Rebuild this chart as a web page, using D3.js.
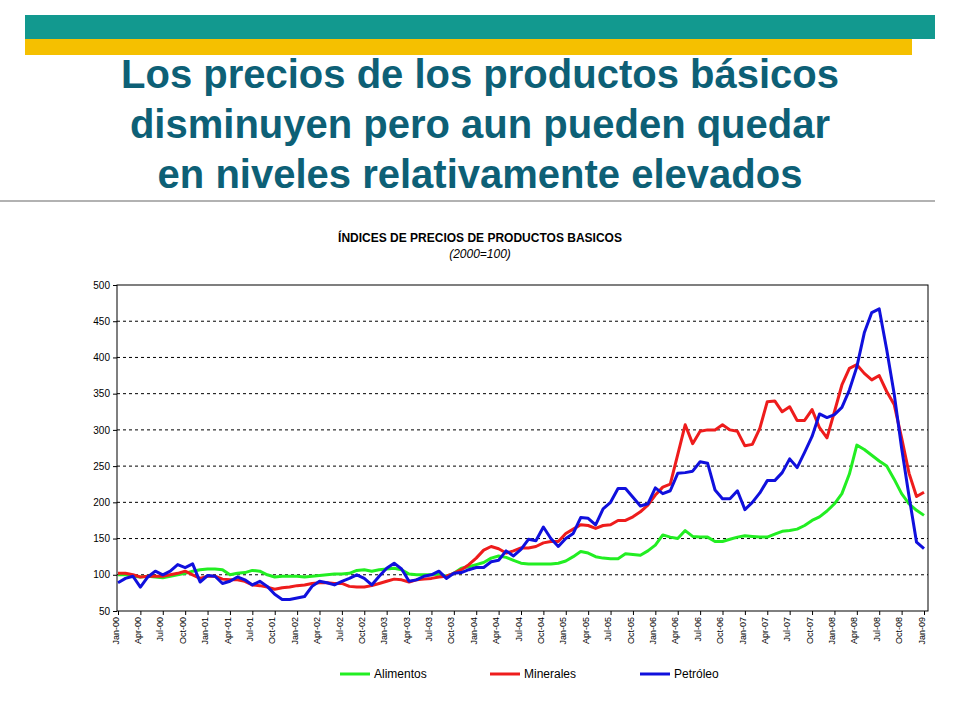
<!DOCTYPE html>
<html>
<head>
<meta charset="utf-8">
<script src="https://cdn.jsdelivr.net/npm/d3@7"></script>
<style>
body { margin: 0; background: #fff; }
</style>
</head>
<body>
<svg width="960" height="720"></svg>
<script>
// monthly indices, Jan-00 .. Jan-09 (2000=100)
const alimentos = [
	100,100,98,97,98,97,96,98,100,102,105,107,
	108,108,107,100,102,103,106,105,100,97,98,98,
	98,97,98,99,100,101,101,102,106,107,105,107,
	108,109,107,101,100,100,100,101,98,102,109,111,
	114,117,123,126,124,120,116,115,115,115,115,116,
	119,125,132,130,125,123,122,122,129,128,127,133,
	141,155,152,150,161,153,152,152,146,146,149,152,
	154,153,152,152,156,160,161,163,168,175,180,188,
	198,212,239,279,273,265,257,250,232,212,198,189,
	182];
const minerales = [
	102,102,100,97,98,98,98,100,102,105,100,95,
	98,98,94,93,93,91,86,85,83,80,82,83,
	85,86,88,89,89,88,88,84,83,83,85,88,
	91,94,93,90,93,94,95,97,98,102,107,114,
	123,134,139,136,130,133,137,137,139,144,146,146,
	157,163,169,168,164,168,169,175,175,180,187,196,
	210,221,225,266,307,281,298,300,300,307,300,298,
	278,280,302,339,340,325,332,313,313,328,303,289,
	325,362,385,390,378,369,375,353,335,289,240,208,
	214];
const petroleo = [
	89,95,98,83,97,105,100,105,114,110,115,90,
	99,98,88,91,97,93,86,91,84,73,66,66,
	68,70,84,91,89,86,91,95,100,95,86,98,
	109,116,108,91,93,98,100,105,95,102,103,107,
	110,110,118,120,133,126,135,149,147,166,150,139,
	150,157,179,178,169,191,200,219,219,207,195,198,
	220,212,216,240,241,243,256,254,217,205,205,216,
	190,200,213,230,230,241,260,248,269,291,322,317,
	321,331,355,387,434,462,467,411,350,275,208,145,
	136];
const monthNames = ["Jan","Apr","Jul","Oct"];
const yTicks = [50,100,150,200,250,300,350,400,450,500];

const svg = d3.select("svg");

// header bars
svg.append("rect").attr("x", 25).attr("y", 15).attr("width", 910).attr("height", 24).attr("fill", "#12998f");
svg.append("rect").attr("x", 25).attr("y", 39).attr("width", 887).attr("height", 16).attr("fill", "#f5c000");

const titleLines = ["Los precios de los productos básicos", "disminuyen pero aun pueden quedar", "en niveles relativamente elevados"];
svg.selectAll(".title").data(titleLines).enter().append("text")
	.attr("x", 480).attr("y", (d, i) => 88 + i * 50)
	.attr("text-anchor", "middle")
	.attr("font-family", "Liberation Sans, Arial, sans-serif")
	.attr("font-weight", "bold").attr("font-size", "40px")
	.attr("fill", "#0d6076").text(d => d);

svg.append("line").attr("x1", 0).attr("x2", 935).attr("y1", 201).attr("y2", 201)
	.attr("stroke", "#999").attr("stroke-width", 1.5);

svg.append("text").attr("x", 480).attr("y", 242).attr("text-anchor", "middle")
	.attr("font-family", "Liberation Sans, Arial, sans-serif").attr("font-weight", "bold").attr("font-size", "12px")
	.text("ÍNDICES DE PRECIOS DE PRODUCTOS BASICOS");
svg.append("text").attr("x", 480).attr("y", 258).attr("text-anchor", "middle")
	.attr("font-family", "Liberation Sans, Arial, sans-serif").attr("font-style", "italic").attr("font-size", "12px")
	.text("(2000=100)");

// plot area
const plotLeft = 117, plotRight = 928, plotTop = 285, plotBottom = 611;
const x = d3.scaleLinear().domain([0, alimentos.length - 1]).range([plotLeft + 1, plotRight - 4]);
const y = d3.scaleLinear().domain([50, 500]).range([plotBottom, plotTop]);

const g = svg.append("g").attr("font-family", "Liberation Sans, Arial, sans-serif");

g.selectAll(".grid").data(yTicks.slice(1, -1)).enter().append("line")
	.attr("x1", plotLeft).attr("x2", plotRight).attr("y1", d => y(d)).attr("y2", d => y(d))
	.attr("stroke", "#000").attr("stroke-dasharray", "3,3").attr("stroke-width", 1);

g.append("rect").attr("x", plotLeft).attr("y", plotTop).attr("width", plotRight - plotLeft).attr("height", plotBottom - plotTop)
	.attr("fill", "none").attr("stroke", "#000");

g.append("g").attr("transform", "translate(" + plotLeft + ",0)")
	.call(d3.axisLeft(y).tickValues(yTicks).tickSize(4).tickSizeOuter(0))
	.call(a => a.select(".domain").remove())
	.selectAll("text").attr("font-size", "10px").attr("font-family", "Liberation Sans, Arial, sans-serif");

const xTickIdx = d3.range(0, alimentos.length, 3);
g.append("g").attr("transform", "translate(0," + plotBottom + ")")
	.call(d3.axisBottom(x).tickValues(xTickIdx).tickSize(4)
		.tickFormat(i => monthNames[(i % 12) / 3] + "-" + String(Math.floor(i / 12)).padStart(2, "0")))
	.call(a => a.select(".domain").remove())
	.selectAll("text")
	.attr("font-size", "9px").attr("font-family", "Liberation Sans, Arial, sans-serif")
	.attr("transform", "rotate(-90)").attr("x", -6).attr("y", -3).attr("dy", "0.35em")
	.style("text-anchor", "end");

const series = [
	{ name: "Alimentos", values: alimentos, color: "#22ee22" },
	{ name: "Minerales", values: minerales, color: "#ee1c1c" },
	{ name: "Petróleo", values: petroleo, color: "#1010dd" }
];
const line = d3.line().x((d, i) => x(i)).y(d => y(d));
g.selectAll(".series").data(series).enter().append("path")
	.attr("d", d => line(d.values)).attr("fill", "none")
	.attr("stroke", d => d.color).attr("stroke-width", 3).attr("stroke-linejoin", "round");

// legend
const lg = g.selectAll(".legend").data(series).enter().append("g")
	.attr("transform", (d, i) => "translate(" + (340 + i * 150) + ",674)");
lg.append("line").attr("x1", 0).attr("x2", 30).attr("stroke", d => d.color).attr("stroke-width", 3);
lg.append("text").attr("x", 34).attr("dy", "0.35em").attr("font-size", "12px").text(d => d.name);
</script>
</body>
</html>
